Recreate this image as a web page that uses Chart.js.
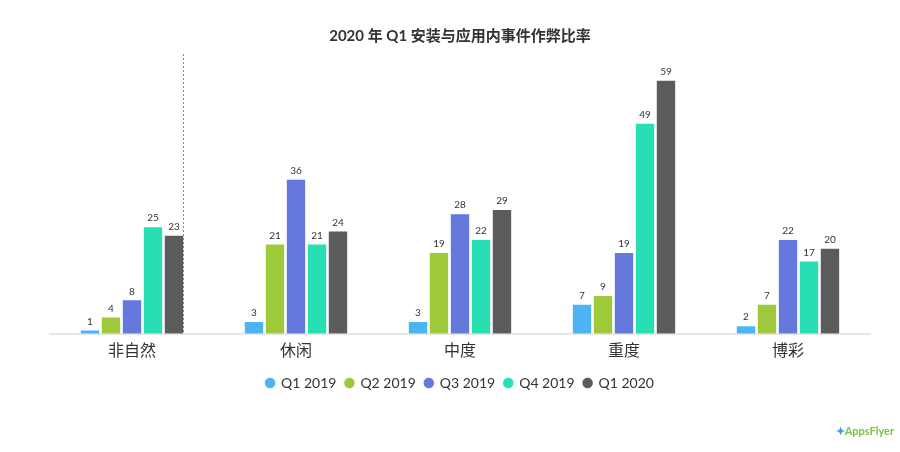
<!DOCTYPE html>
<html>
<head>
<meta charset="utf-8">
<script src="https://cdn.jsdelivr.net/npm/chart.js@4/dist/chart.umd.min.js"></script>
<style>
html,body{margin:0;padding:0;background:#fff;}
#wrap{position:relative;width:900px;height:452px;}
#logo{position:absolute;right:6px;bottom:14px;font:bold 11px Lato, sans-serif;color:#7cc242;}
#logo span{color:#3aa0e8;}
</style>
</head>
<body>
<div id="wrap">
<canvas id="c" width="900" height="452"></canvas>
<div id="logo"><span>✦</span>AppsFlyer</div>
</div>
<script>
const categories = ['非自然', '休闲', '中度', '重度', '博彩'];
const seriesNames = ['Q1 2019', 'Q2 2019', 'Q3 2019', 'Q4 2019', 'Q1 2020'];
const q1_2019 = [1, 3, 3, 7, 2];
const q2_2019 = [4, 21, 19, 9, 7];
const q3_2019 = [8, 36, 28, 19, 22];
const q4_2019 = [25, 21, 22, 49, 17];
const q1_2020 = [23, 24, 29, 59, 20];
const colors = ['#4cb4f2', '#9dc93b', '#6578dc', '#28dfb3', '#5c5c5c'];
const seriesValues = [q1_2019, q2_2019, q3_2019, q4_2019, q1_2020];

const font = "Lato, 'Noto Sans CJK SC', sans-serif";

const labelPlugin = {
  id: 'labels',
  afterDatasetsDraw(chart) {
    const ctx = chart.ctx;
    ctx.save();
    ctx.font = "10px " + font;
    ctx.fillStyle = '#333';
    ctx.textAlign = 'center';
    ctx.textBaseline = 'bottom';
    chart.data.datasets.forEach((ds, i) => {
      const meta = chart.getDatasetMeta(i);
      meta.data.forEach((el, j) => {
        ctx.fillText(ds.data[j], el.x, el.y - 3);
      });
    });
    // dotted separator line
    const last = chart.getDatasetMeta(4).data[0];
    const x = Math.round(last.x + last.width / 2) - 0.5;
    ctx.strokeStyle = '#888';
    ctx.lineWidth = 1;
    ctx.setLineDash([2, 2]);
    ctx.beginPath();
    ctx.moveTo(x, chart.chartArea.top);
    ctx.lineTo(x, chart.chartArea.bottom);
    ctx.stroke();
    ctx.restore();
  }
};

new Chart(document.getElementById('c'), {
  type: 'bar',
  data: {
    labels: categories,
    datasets: seriesNames.map((n, i) => ({
      label: n,
      data: seriesValues[i],
      backgroundColor: colors[i],
      borderColor: 'rgba(255,255,255,0.8)',
      borderWidth: 1,
      categoryPercentage: 0.64,
      barPercentage: 0.97
    }))
  },
  options: {
    responsive: false,
    animation: false,
    layout: { padding: { left: 50, right: 30, top: 0, bottom: 52 } },
    plugins: {
      title: {
        display: true,
        text: '2020 年 Q1 安装与应用内事件作弊比率',
        color: '#333',
        font: { family: font, size: 15, weight: 'bold' },
        padding: { top: 27, bottom: 9 }
      },
      legend: {
        position: 'bottom',
        labels: {
          usePointStyle: true,
          pointStyle: 'circle',
          boxWidth: 8,
          boxHeight: 8,
          padding: 9,
          color: '#333',
          font: { family: font, size: 14 }
        }
      },
      tooltip: { enabled: false }
    },
    scales: {
      x: {
        grid: { display: false, drawTicks: false },
        border: { color: '#e6e6e6', width: 2 },
        ticks: { color: '#333', font: { family: font, size: 16 }, padding: 7 }
      },
      y: {
        display: false,
        min: 0,
        max: 65
      }
    }
  },
  plugins: [labelPlugin]
});
</script>
</body>
</html>
